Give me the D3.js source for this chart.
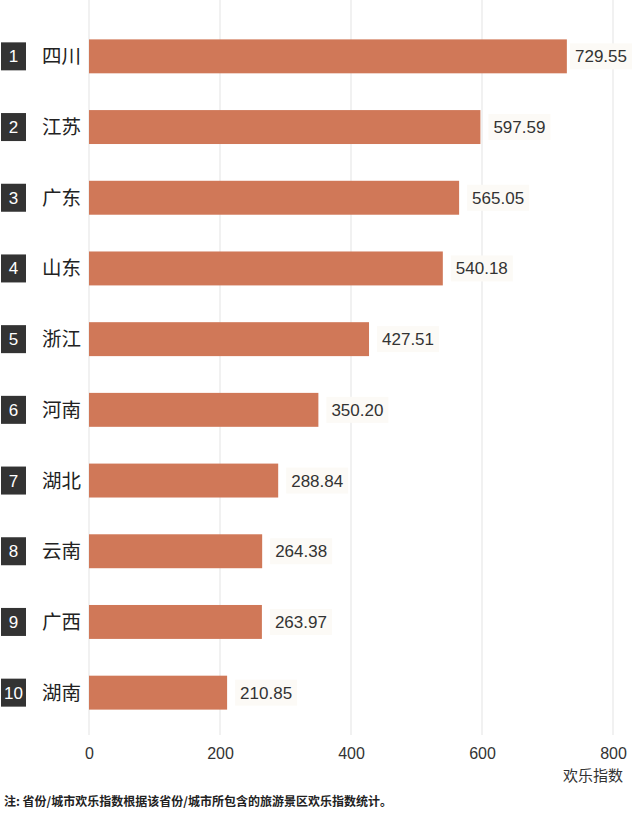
<!DOCTYPE html>
<html><head><meta charset="utf-8">
<script src="https://cdn.jsdelivr.net/npm/d3@7/dist/d3.min.js"></script>
<style>body{margin:0;background:#fff}svg{display:block}</style>
</head><body>
<svg id="c" width="640" height="814"></svg>
<script>
const provinces = ["四川","江苏","广东","山东","浙江","河南","湖北","云南","广西","湖南"];
const ranks = ["1","2","3","4","5","6","7","8","9","10"];
const values = [729.55,597.59,565.05,540.18,427.51,350.20,288.84,264.38,263.97,210.85];
const xTicks = [0,200,400,600,800];
const axisTitle = "欢乐指数";
const note = "注: 省份/城市欢乐指数根据该省份/城市所包含的旅游景区欢乐指数统计。";

const svg = d3.select("#c");
const cjk = "'Noto Sans CJK SC','Noto Sans',sans-serif";
const num = "'Liberation Sans',Arial,sans-serif";
const x = d3.scaleLinear().domain([0,800]).range([89,613]);
const y = d3.scaleBand().domain(provinces).range([21,728]).paddingInner(0.52).paddingOuter(0.26);

// grid
svg.append("g").selectAll("line").data(xTicks).join("line")
  .attr("x1",d=>x(d)).attr("x2",d=>x(d)).attr("y1",0).attr("y2",735)
  .attr("stroke","#e8e8e8").attr("stroke-width",1.2);

// axis labels
const ax = svg.append("g").attr("transform","translate(0,739)")
  .call(d3.axisBottom(x).tickValues(xTicks).tickSize(0).tickPadding(9));
ax.select(".domain").remove();
ax.selectAll("text").attr("font-family",num).attr("font-size",16).attr("fill","#333");

svg.append("text").attr("x",623).attr("y",781).attr("text-anchor","end")
  .attr("font-family",cjk).attr("font-size",15).attr("fill","#333").text(axisTitle);

// bars
svg.append("g").selectAll("rect").data(values).join("rect")
  .attr("x",x(0)).attr("y",(d,i)=>y(provinces[i]))
  .attr("width",d=>x(d)-x(0)).attr("height",y.bandwidth())
  .attr("fill","#d07858");

// rank boxes
const rk = svg.append("g").selectAll("g").data(ranks).join("g")
  .attr("transform",(d,i)=>`translate(1,${y(provinces[i])+y.bandwidth()/2-14})`);
rk.append("rect").attr("width",25).attr("height",28).attr("fill","#333");
rk.append("text").attr("x",12.5).attr("y",20).attr("text-anchor","middle")
  .attr("font-family",num).attr("font-size",17).attr("fill","#fff").text(d=>d);

// province names
svg.append("g").selectAll("text").data(provinces).join("text")
  .attr("x",42).attr("y",d=>y(d)+y.bandwidth()/2+7)
  .attr("font-family",cjk).attr("font-size",19.5).attr("fill","#222").text(d=>d);

// value labels
const lg = svg.append("g").selectAll("g").data(values).join("g");
lg.each(function(d,i){
  const g = d3.select(this);
  const t = g.append("text").attr("font-family",num).attr("font-size",17).attr("fill","#333")
    .text(d.toFixed(2));
  const w = t.node().getComputedTextLength();
  let tx = x(d)+13;
  if (tx + w > 627) tx = 627 - w;
  const cy = y(provinces[i])+y.bandwidth()/2;
  t.attr("x",tx).attr("y",cy+6);
  g.insert("rect","text").attr("x",tx-5).attr("y",cy-13).attr("width",w+10).attr("height",26)
    .attr("fill","#fcfaf6");
});

svg.append("text").attr("x",4).attr("y",806)
  .attr("font-family",cjk).attr("font-size",12).attr("font-weight",700).attr("fill","#222").text(note);
</script>
</body></html>
